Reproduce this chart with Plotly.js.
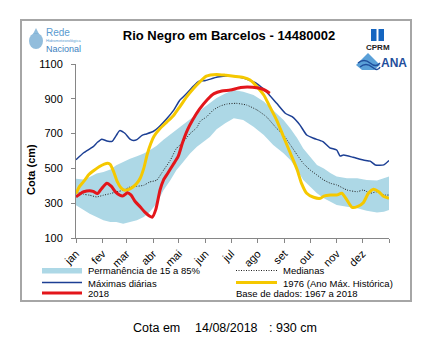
<!DOCTYPE html>
<html>
<head>
<meta charset="utf-8">
<script src="https://cdn.plot.ly/plotly-3.0.1.min.js"></script>
<style>html,body{margin:0;padding:0;background:#fff}#chart{width:430px;height:358px}</style>
</head>
<body>
<div id="chart"></div>
<script>
// ---- data (x = day of year, y = cota in cm) ----
const monthStarts = [0, 31, 59, 90, 120, 151, 181, 212, 243, 273, 304, 334, 365];
const monthLabels = ['jan', 'fev', 'mar', 'abr', 'mai', 'jun', 'jul', 'ago', 'set', 'out', 'nov', 'dez', ''];

const bandDays = [0, 9, 16, 24, 32, 40, 47, 55, 63, 71, 79, 86, 94, 102, 110, 117, 125, 133, 141, 148, 156, 164, 174, 184, 195, 207, 219, 230, 242, 250, 258, 265, 273, 281, 289, 297, 304, 316, 328, 339, 351, 359, 365];
const p15 = [288, 259, 240, 221, 202, 192, 192, 182, 192, 202, 221, 250, 298, 374, 432, 489, 537, 585, 624, 652, 681, 725, 760, 788, 778, 740, 692, 635, 587, 548, 491, 433, 395, 357, 328, 309, 290, 280, 271, 257, 246, 251, 261];
const p85 = [441, 436, 451, 470, 480, 493, 518, 537, 556, 570, 585, 604, 630, 665, 695, 720, 750, 782, 812, 845, 875, 905, 930, 950, 941, 922, 884, 836, 778, 730, 673, 615, 567, 520, 500, 472, 453, 443, 443, 433, 430, 443, 453];

const medDays = [0, 9, 16, 24, 32, 40, 47, 55, 63, 71, 79, 86, 94, 102, 110, 117, 125, 133, 141, 145, 152, 160, 168, 176, 187, 199, 211, 222, 234, 242, 250, 258, 265, 273, 281, 289, 297, 304, 316, 328, 335, 343, 351, 359, 365];
const medianas = [365, 351, 346, 336, 346, 355, 365, 374, 393, 397, 403, 422, 432, 489, 547, 614, 652, 700, 735, 772, 795, 835, 858, 870, 874, 864, 836, 797, 730, 692, 635, 577, 529, 491, 462, 433, 414, 405, 376, 366, 376, 357, 366, 347, 347];

const maxDays = [0, 9, 20, 25, 30, 36, 42, 47, 51, 57, 63, 67, 71, 77, 82, 90, 96, 106, 114, 121, 129, 137, 143, 151, 165, 183, 195, 203, 210, 222, 234, 244, 252, 261, 269, 277, 288, 296, 304, 308, 312, 323, 335, 343, 349, 359, 365];
const maximas = [550, 590, 625, 650, 668, 658, 655, 690, 717, 702, 668, 660, 665, 690, 698, 712, 735, 787, 835, 892, 930, 973, 1000, 1005, 1025, 1030, 1020, 1005, 990, 941, 874, 817, 797, 750, 692, 673, 654, 618, 606, 571, 577, 564, 548, 542, 520, 520, 545];

const y1976Days = [0, 4, 9, 15, 20, 27, 33, 37, 40, 44, 48, 53, 57, 61, 66, 71, 75, 79, 83, 87, 91, 98, 106, 114, 121, 129, 137, 145, 152, 164, 175, 184, 195, 203, 211, 219, 226, 234, 242, 250, 258, 263, 269, 277, 285, 289, 297, 304, 310, 316, 322, 328, 335, 341, 347, 353, 359, 365];
const y1976 = [355, 395, 425, 465, 485, 510, 525, 530, 522, 480, 425, 385, 374, 378, 392, 415, 445, 500, 580, 640, 685, 729, 767, 806, 854, 911, 959, 1000, 1030, 1040, 1035, 1030, 1023, 1008, 970, 922, 855, 778, 682, 587, 491, 414, 357, 334, 328, 341, 347, 347, 357, 318, 276, 280, 303, 357, 380, 366, 338, 328];

const y2018Days = [0, 5, 9, 16, 20, 25, 30, 36, 41, 46, 51, 55, 60, 64, 69, 75, 80, 86, 89, 93, 98, 102, 107, 113, 119, 124, 130, 136, 144, 153, 161, 170, 180, 192, 206, 218, 226];
const y2018 = [336, 355, 366, 372, 368, 355, 385, 415, 398, 365, 346, 342, 360, 348, 310, 278, 250, 225, 220, 263, 376, 433, 472, 520, 567, 644, 721, 778, 840, 895, 930, 945, 950, 965, 966, 955, 932];

const lastDate = '14/08/2018';
const lastValue = 930;

// ---- traces ----
const FONT = 'Arial, "Liberation Sans", sans-serif';
const traces = [
  {x: bandDays, y: p15, mode: 'lines', line: {width: 0}, hoverinfo: 'skip', showlegend: false},
  {x: bandDays, y: p85, mode: 'lines', fill: 'tonexty', fillcolor: '#add8e6', line: {width: 0}, name: 'Permanência de 15 a 85%', showlegend: false},
  {x: medDays, y: medianas, mode: 'lines', line: {color: '#222', width: 1, dash: '1px,1.5px', shape: 'spline', smoothing: 0.5}, name: 'Medianas', showlegend: false},
  {x: maxDays, y: maximas, mode: 'lines', line: {color: '#1c3f94', width: 1.5, shape: 'spline', smoothing: 0.5}, name: 'Máximas diárias', showlegend: false},
  {x: y1976Days, y: y1976, mode: 'lines', line: {color: '#f5c800', width: 3, shape: 'spline', smoothing: 0.6}, name: '1976 (Ano Máx. Histórica)', showlegend: false},
  {x: y2018Days, y: y2018, mode: 'lines', line: {color: '#e3161b', width: 3, shape: 'spline', smoothing: 0.6}, name: '2018', showlegend: false}
];

// paper coordinate helpers for plot area (x 76..389, y 64..238 px)
const PX = px => (px - 76) / 313;
const PY = py => (238 - py) / 174;

const shapes = [
  // outer frame
  {type: 'rect', xref: 'paper', yref: 'paper', x0: PX(21), x1: PX(411), y0: PY(301), y1: PY(20), line: {color: '#a6a6a6', width: 2}, layer: 'below'},
  // legend symbols
  {type: 'rect', xref: 'paper', yref: 'paper', x0: PX(42), x1: PX(82), y0: PY(273.5), y1: PY(268), fillcolor: '#add8e6', line: {width: 0}},
  {type: 'line', xref: 'paper', yref: 'paper', x0: PX(42), x1: PX(82), y0: PY(282.5), y1: PY(282.5), line: {color: '#1c3f94', width: 1.5}},
  {type: 'line', xref: 'paper', yref: 'paper', x0: PX(42), x1: PX(82), y0: PY(293), y1: PY(293), line: {color: '#e3161b', width: 3}},
  {type: 'line', xref: 'paper', yref: 'paper', x0: PX(236), x1: PX(277), y0: PY(270.5), y1: PY(270.5), line: {color: '#222', width: 1, dash: '1px,1.5px'}},
  {type: 'line', xref: 'paper', yref: 'paper', x0: PX(236), x1: PX(277), y0: PY(282.5), y1: PY(282.5), line: {color: '#f5c800', width: 3}},
  // Rede logo globe
  {type: 'circle', xref: 'paper', yref: 'paper', x0: PX(29), x1: PX(43), y0: PY(49), y1: PY(33), fillcolor: '#7fb2d6', line: {width: 0}, opacity: 0.85},
  {type: 'path', xref: 'paper', yref: 'paper', path: `M ${PX(33)} ${PY(34)} L ${PX(36)} ${PY(28)} L ${PX(39)} ${PY(34)} Z`, fillcolor: '#7fb2d6', line: {width: 0}, opacity: 0.85},
  // CPRM icon
  {type: 'rect', xref: 'paper', yref: 'paper', x0: PX(371), x1: PX(376.5), y0: PY(41), y1: PY(29), fillcolor: '#1565c0', line: {width: 0}},
  {type: 'rect', xref: 'paper', yref: 'paper', x0: PX(378.5), x1: PX(384), y0: PY(41), y1: PY(29), fillcolor: '#1565c0', line: {width: 0}},
  // ANA icon
  {type: 'path', xref: 'paper', yref: 'paper', path: `M ${PX(356)} ${PY(65)} L ${PX(368)} ${PY(53)} L ${PX(380)} ${PY(65)} L ${PX(374)} ${PY(70)} L ${PX(362)} ${PY(70)} Z`, fillcolor: '#5aa0d8', line: {width: 0}},
  {type: 'path', xref: 'paper', yref: 'paper', path: `M ${PX(358)} ${PY(63)} Q ${PX(364)} ${PY(58)} ${PX(370)} ${PY(63)} T ${PX(380)} ${PY(63)}`, line: {color: '#1f4e9c', width: 1.5}},
  {type: 'path', xref: 'paper', yref: 'paper', path: `M ${PX(360)} ${PY(67)} Q ${PX(366)} ${PY(62)} ${PX(372)} ${PY(67)} T ${PX(380)} ${PY(67)}`, line: {color: '#1f4e9c', width: 1.5}}
];

const ann = (text, px, py, opts) => Object.assign({
  text: text, xref: 'paper', yref: 'paper', x: PX(px), y: PY(py), showarrow: false,
  xanchor: 'left', yanchor: 'middle', borderpad: 0, font: {family: FONT, size: 9.5, color: '#000'}
}, opts || {});

const annotations = [
  ann('<b>Cota (cm)</b>', 31, 170, {textangle: -90, xanchor: 'center', font: {family: FONT, size: 11, color: '#000'}}),
  ann('Permanência de 15 a 85%', 87, 270.7),
  ann('Máximas diárias', 87, 283),
  ann('2018', 87, 293.5),
  ann('Medianas', 282, 270.7),
  ann('1976 (Ano Máx. Histórica)', 282, 283),
  ann('Base de dados: 1967 a 2018', 235, 293.5),
  ann('Cota em', 132, 328, {font: {family: FONT, size: 12.5, color: '#000'}}),
  ann(lastDate, 194, 328, {font: {family: FONT, size: 12.5, color: '#000'}}),
  ann(': ' + lastValue + ' cm', 268, 328, {font: {family: FONT, size: 12.5, color: '#000'}}),
  // logos text
  ann('Rede', 44.5, 32.5, {font: {family: FONT, size: 10, color: '#5b9bd0'}}),
  ann('Hidrometeorológica', 45, 40.8, {font: {family: FONT, size: 4, color: '#5b9bd0'}}),
  ann('Nacional', 44.5, 49, {font: {family: FONT, size: 9, color: '#3d7fc0'}}),
  ann('<b>CPRM</b>', 377.5, 48, {xanchor: 'center', font: {family: FONT, size: 8, color: '#222'}}),
  ann('<b>ANA</b>', 380, 62.5, {font: {family: FONT, size: 12, color: '#1f4e9c'}})
];

const layout = {
  width: 430, height: 358,
  margin: {l: 76, r: 41, t: 64, b: 120, pad: 0},
  paper_bgcolor: '#fff', plot_bgcolor: '#fff',
  font: {family: FONT, size: 11, color: '#000'},
  showlegend: false,
  title: {text: '<b>Rio Negro em Barcelos - 14480002</b>', x: 229 / 430, y: 1 - 35 / 358, xref: 'container', yref: 'container', xanchor: 'center', yanchor: 'middle', font: {family: FONT, size: 13, color: '#000'}},
  xaxis: {
    range: [0, 365], tickmode: 'array', tickvals: monthStarts, ticktext: monthLabels,
    tickangle: -45, ticks: 'outside', ticklen: 4, tickcolor: '#868686',
    showline: true, linecolor: '#868686', linewidth: 1, showgrid: false, zeroline: false,
    tickfont: {family: FONT, size: 11, color: '#000'}, fixedrange: true
  },
  yaxis: {
    range: [100, 1100], tickmode: 'linear', tick0: 100, dtick: 200,
    ticks: 'outside', ticklen: 4, tickcolor: '#868686', ticklabelstandoff: 6,
    showline: true, linecolor: '#868686', linewidth: 1, showgrid: false, zeroline: false,
    tickfont: {family: FONT, size: 11, color: '#000'}, fixedrange: true
  },
  shapes: shapes,
  annotations: annotations
};

Plotly.newPlot('chart', traces, layout, {displayModeBar: false, staticPlot: true});
</script>
</body>
</html>
